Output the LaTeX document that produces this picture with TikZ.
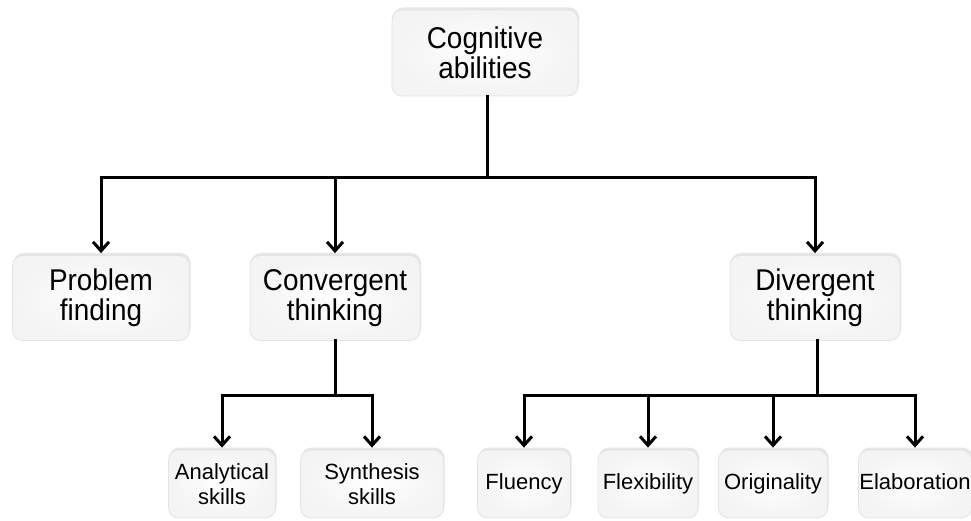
\documentclass[tikz,border=0pt]{standalone}
\usepackage{fontspec}
\setmainfont{Liberation Sans}
\newfontfamily\tallfont[FakeStretch=0.93]{Liberation Sans}
\usetikzlibrary{arrows.meta,shadows}
\tikzset{
  box/.style={draw=gray!22, line width=0.8pt, rounded corners=10pt, align=center, inner sep=0pt,
    inner color=white, outer color=gray!9,
    drop shadow={shadow xshift=1pt, shadow yshift=2.5pt, opacity=0.2, fill=gray}},
  bigbox/.style={box, font=\tallfont\fontsize{30}{30}\selectfont},
  smallbox/.style={box, font=\fontsize{22}{25}\selectfont, minimum height=68pt},
  conn/.style={line width=3pt, line cap=rect},
  arr/.style={line width=3pt, shorten >=2pt, -{Straight Barb[length=9pt,width=16pt,line width=3pt]}}
}
\begin{document}
\begin{tikzpicture}[x=1pt,y=-1pt]
\useasboundingbox (0,0) rectangle (971,521);
\node[bigbox, minimum width=186pt, minimum height=86pt] (cog) at (485,53) {Cognitive\\abilities};
\node[bigbox, minimum width=177pt, minimum height=85pt] (pf) at (101,298) {Problem\\finding};
\node[bigbox, minimum width=170pt, minimum height=85pt] (conv) at (335,298) {Convergent\\thinking};
\node[bigbox, minimum width=170pt, minimum height=85pt] (div) at (815,298) {Divergent\\thinking};
\node[smallbox, minimum width=107pt] (ana) at (222,484) {Analytical\\skills};
\node[smallbox, minimum width=143pt] (syn) at (372,484) {Synthesis\\skills};
\node[smallbox, minimum width=93pt] (flu) at (524,484) {Fluency};
\node[smallbox, minimum width=100pt] (fle) at (648,484) {Flexibility};
\node[smallbox, minimum width=109pt] (ori) at (773,484) {Originality};
\node[smallbox, minimum width=113pt] (ela) at (915,484) {\vphantom{y}Elaboration};
\coordinate (j1) at (487,178);
\coordinate (j2) at (335,395);
\coordinate (j3) at (817,395);
\draw[conn] (cog.south -| j1) -- (j1);
\draw[arr] (j1) -| (pf.north);
\draw[arr] (j1) -| (conv.north);
\draw[arr] (j1) -| (div.north);
\draw[conn] (conv.south) -- (j2);
\draw[arr] (j2) -| (ana.north);
\draw[arr] (j2) -| (syn.north);
\draw[conn] (div.south -| j3) -- (j3);
\draw[arr] (j3) -| (flu.north);
\draw[arr] (j3) -| (fle.north);
\draw[arr] (j3) -| (ori.north);
\draw[arr] (j3) -| (ela.north);
\end{tikzpicture}
\end{document}
